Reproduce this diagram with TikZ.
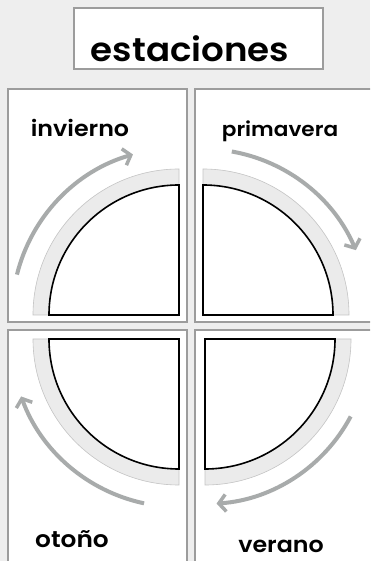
\documentclass[tikz,border=0pt]{standalone}
\usepackage{fontspec}
\newfontfamily\pop{Poppins}[UprightFont={* SemiBold}, FakeStretch=1.08]
\usetikzlibrary{arrows.meta}
\definecolor{bgc}{HTML}{EEEEEE}
\definecolor{framec}{HTML}{9C9C9C}
\definecolor{bandc}{HTML}{EBEBEB}
\definecolor{bandline}{HTML}{C4C4C4}
\definecolor{arrc}{HTML}{A8ABAB}
\tikzset{
  panel/.style={draw=framec, fill=white, line width=1.5pt},
  titlebox/.style={draw=framec, fill=white, line width=1.2pt},
  band/.style={fill=bandc, draw=bandline, line width=0.6pt},
  quarter/.style={fill=white, draw=black, line width=1.6pt, line join=miter},
  cyc/.style={draw=arrc, line width=4pt, -{Straight Barb[length=7pt,width=17pt,line width=3.5pt]}},
  lbl/.style={font=\pop, text=black, inner sep=0pt, anchor=base}
}
\begin{document}
\begin{tikzpicture}[x=1pt,y=1pt]
\useasboundingbox (0,0) rectangle (370,561);
\clip (0,0) rectangle (370,561);
\fill[bgc] (0,0) rectangle (370,561);
% title
\draw[titlebox] (74,553) rectangle (323,492);
\node[lbl, font=\pop\fontsize{33}{33}\selectfont] (title) at (190,499) {estaciones};
% panels
\draw[panel] (8,239) rectangle (187,472);
\draw[panel] (195,239) rectangle (380,472);
\draw[panel] (8,-5) rectangle (187,231);
\draw[panel] (195,-5) rectangle (380,231);
% centres
\coordinate (cTL) at (179,246);
\coordinate (cTR) at (203,246);
\coordinate (cBL) at (179,222);
\coordinate (cBR) at (205,222);
% bands and quarters
\foreach \c/\a/\b in {cTL/180/90, cTR/90/0, cBL/270/180, cBR/360/270}{
  \path[band] ([shift={(\c)}]\a:146) arc[start angle=\a, end angle=\b, radius=146]
     -- ([shift={(\c)}]\b:130) arc[start angle=\b, end angle=\a, radius=130] -- cycle;
  \path[quarter] (\c) -- ([shift={(\c)}]\a:130) arc[start angle=\a, end angle=\b, radius=130] -- cycle;
}
% cycle arrows
\draw[cyc] ([shift={(cTL)}]166:167) arc[start angle=166, end angle=106, radius=167];
\draw[cyc] ([shift={(cTR)}]80:166) arc[start angle=80, end angle=23, radius=166];
\draw[cyc] ([shift={(cBR)}]332:165) arc[start angle=332, end angle=274, radius=165];
\draw[cyc] ([shift={(cBL)}]258:168) arc[start angle=258, end angle=200, radius=168];
% labels
\node[lbl, font=\pop\fontsize{22}{22}\selectfont] (inv) at (80,424) {invierno};
\node[lbl, font=\pop\fontsize{20}{20}\selectfont] (pri) at (280,424) {primavera};
\node[lbl, font=\pop\fontsize{23}{23}\selectfont] (oto) at (72,13) {otoño};
\node[lbl, font=\pop\fontsize{22}{22}\selectfont] (ver) at (281,9) {verano};
\end{tikzpicture}
\end{document}
